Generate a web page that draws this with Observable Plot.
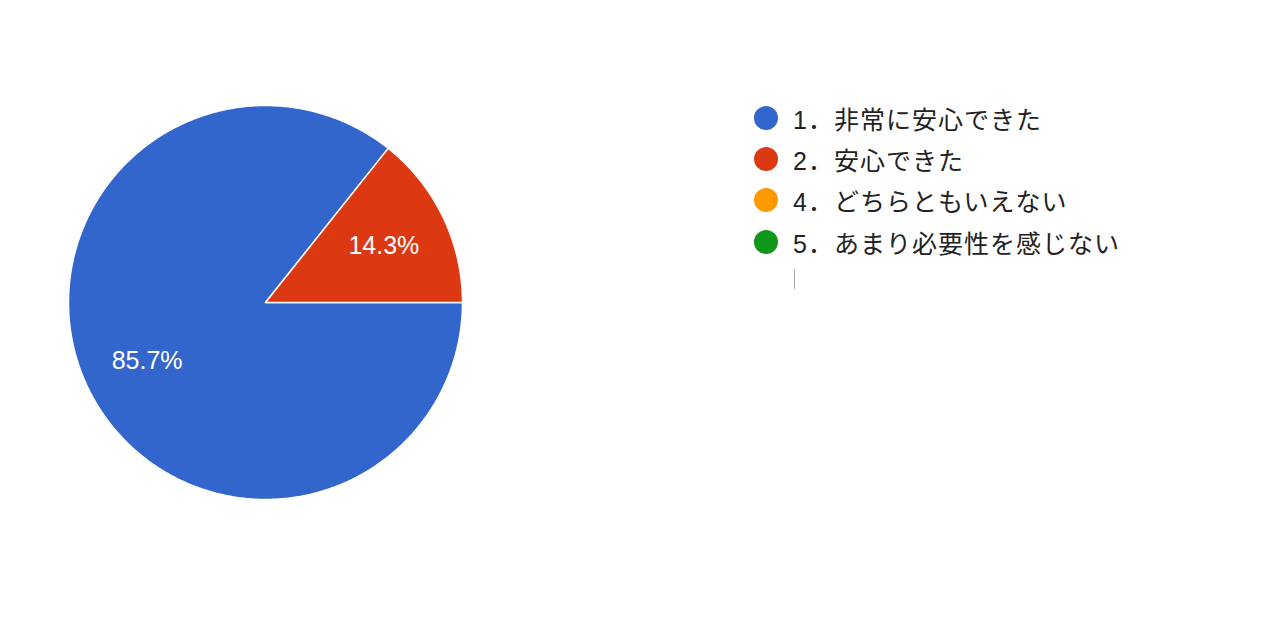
<!DOCTYPE html>
<html>
<head>
<meta charset="utf-8">
<script src="https://cdn.jsdelivr.net/npm/d3@7"></script>
<script src="https://cdn.jsdelivr.net/npm/@observablehq/plot@0.6"></script>
<style>
  html, body { margin: 0; padding: 0; background: #fff; }
  #wrap { position: relative; width: 1280px; height: 640px; overflow: hidden; }
  #legend { position: absolute; left: 754px; top: 97px; font-family: "Liberation Sans", Arial, "Noto Sans CJK JP", sans-serif; font-size: 25px; color: #222; }
  .item { display: flex; align-items: center; height: 41.3px; white-space: nowrap; }
  .sw { width: 24px; height: 24px; border-radius: 50%; margin-right: 15px; flex: none; }
  .lbl { font-family: "Liberation Sans", "Noto Sans CJK JP", sans-serif; letter-spacing: 1px; }
  #cursor { position: absolute; left: 794px; top: 269px; width: 1px; height: 20px; background: #aaa; }
</style>
</head>
<body>
<div id="wrap">
  <div id="chart"></div>
  <div id="legend"></div>
  <div id="cursor"></div>
</div>
<script>
// Data
const categories = ["1．非常に安心できた", "2．安心できた", "4．どちらともいえない", "5．あまり必要性を感じない"];
const values = [85.7, 14.3, 0, 0];
const colors = ["#3366cc", "#dc3912", "#ff9900", "#109618"];
const sliceLabels = ["85.7%", "14.3%", "", ""];
const startAngleDeg = 90; // pie begins at 3 o'clock, clockwise

// Build slice polygons from values
const total = d3.sum(values);
const polys = [];
const labels = [];
let acc = startAngleDeg * Math.PI / 180;
values.forEach((v, i) => {
  if (v <= 0) return;
  const span = v / total * 2 * Math.PI;
  const a0 = acc, a1 = acc + span;
  const steps = Math.max(2, Math.ceil(span / (Math.PI / 360)));
  polys.push({slice: i, x: 0, y: 0, color: colors[i]});
  for (let k = 0; k <= steps; k++) {
    const a = a0 + (a1 - a0) * k / steps;
    polys.push({slice: i, x: Math.sin(a), y: Math.cos(a), color: colors[i]});
  }
  const am = (a0 + a1) / 2;
  labels.push({x: 0.667 * Math.sin(am), y: 0.667 * Math.cos(am), text: sliceLabels[i]});
  acc = a1;
});

const chart = Plot.plot({
  width: 1280,
  height: 640,
  margin: 0,
  x: {domain: [-1, 1], range: [68, 462], axis: null},
  y: {domain: [-1, 1], range: [499, 105], axis: null},
  style: {background: "#fff"},
  marks: [
    Plot.line(polys, {
      x: "x", y: "y", z: "slice",
      fill: d => d.color,
      stroke: "#fff", strokeWidth: 1.5,
      curve: "linear-closed"
    }),
    Plot.text(labels, {
      x: "x", y: "y", text: "text",
      fill: "#fff", fontSize: 25,
      fontFamily: "'Liberation Sans', Arial, sans-serif",
      textAnchor: "middle", dy: 1
    })
  ]
});
document.getElementById("chart").appendChild(chart);

const legend = d3.select("#legend");
categories.forEach((c, i) => {
  const it = legend.append("div").attr("class", "item");
  it.append("div").attr("class", "sw").style("background", colors[i]);
  it.append("span").attr("class", "lbl").text(c);
});
</script>
</body>
</html>
